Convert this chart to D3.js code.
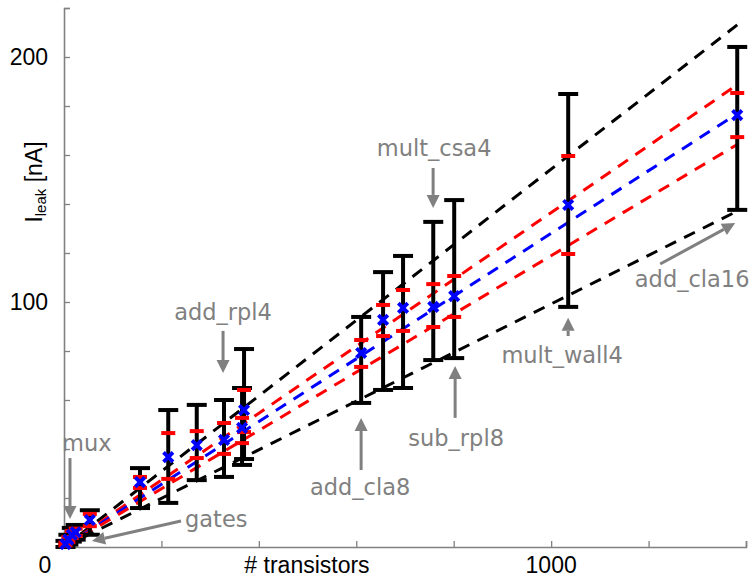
<!DOCTYPE html>
<html><head><meta charset="utf-8">
<script src="https://cdn.jsdelivr.net/npm/d3@7"></script>
<style>body{margin:0;background:#fff}</style>
</head><body>
<svg id="c" width="753" height="580"></svg>
<script>
// ---- data ----
const transistors = [3, 9, 16, 24, 53, 156, 214, 272.5, 328.5, 365.5, 369.6, 610, 655, 696, 758, 801, 1035, 1382];
const meanLeak    = [1.2, 3, 5, 6, 11, 26.5, 36.7, 41.6, 43.7, 48.6, 55.9, 79.2, 92.7, 97.6, 98, 102.4, 139.6, 176.3];
const redHigh     = [1.8, 4, 6.5, 7.5, 13.5, 28.6, 46.5, 47.3, 50.6, 52.7, 64.1, 84.5, 98.8, 104.9, 107.3, 110.6, 159.6, 185.3];
const redLow      = [0.6, 2, 3.7, 4.5, 8.5, 24.1, 27.8, 36.3, 38, 42.4, 46.9, 73.5, 86.1, 88.2, 89.8, 93.9, 119.6, 167.3];
const blackHigh   = [2.5, 5, 7.8, 9, 15, 32.2, 55.9, 58, 60, 64.9, 80.8, 93.9, 112.2, 118.8, 132.7, 141.6, 184.9, 204.1];
const blackLow    = [0, 1, 2.2, 3, 5, 15.9, 18, 27.3, 28.6, 33.5, 35.9, 58.8, 64.1, 64.9, 76.3, 77.1, 98, 137.6];

// fit lines through origin: slope (nA per transistor)
const fitNames  = ["upperBlack", "upperRed", "mean", "lowerRed", "lowerBlack"];
const fitSlopes = [0.1542, 0.1365, 0.1280, 0.1189, 0.0992];
const fitColors = ["#000", "#ff0000", "#0000ff", "#ff0000", "#000"];
const fitEndX   = 1382;

const xTickLabels = ["1000"];
const yTickLabels = ["100", "200"];

const annTexts  = ["mux", "gates", "add_rpl4", "add_cla8", "sub_rpl8", "mult_csa4", "mult_wall4", "add_cla16"];
const annTextX  = [-4.1, 248.5, 326.5, 607.8, 805, 759.8, 1022.6, 1289.5];
const annTextY  = [39.2, 8.2, 92.7, 21.2, 41.2, 159.6, 75.1, 106.1];
const annAnchor = ["start", "start", "middle", "middle", "middle", "middle", "middle", "middle"];
const annFrom   = [[12.3,36.3],[240.2,10.6],[326.5,88.2],[609.9,31.4],[802.9,52.7],[757.7,154.7],[1034.9,86.1],[1223.8,115.5]];
const annTo     = [[12.3,11.4],[57.5,2.4],[326.5,71],[609.9,52.7],[802.9,73.9],[757.7,138.4],[1034.9,93.6],[1377.8,132.2]];

// ---- chart ----
const svg = d3.select("#c");
const x = d3.scaleLinear().domain([0, 1400]).range([64, 746]);
const y = d3.scaleLinear().domain([0, 220]).range([547, 8]);
const gray = "#808080";

// axes
const gx = svg.append("g").attr("transform", "translate(0,547)")
  .call(d3.axisBottom(x).tickValues(d3.range(0, 1401, 200)).tickSize(-6).tickFormat(""));
const gy = svg.append("g").attr("transform", "translate(64,0)")
  .call(d3.axisLeft(y).tickValues(d3.range(0, 221, 20)).tickSize(-6).tickFormat(""));
[gx, gy].forEach(g => {
  g.select(".domain").attr("stroke", gray).attr("stroke-width", 1.6);
  g.selectAll(".tick line").attr("stroke", gray).attr("stroke-width", 1.3);
});

const fontA = "'Liberation Sans', Arial, sans-serif";
svg.append("text").attr("x", 45).attr("y", 573).attr("text-anchor", "middle")
  .attr("font-family", fontA).attr("font-size", 23).text("0");
xTickLabels.forEach(t => svg.append("text").attr("x", x(+t)).attr("y", 573).attr("text-anchor", "middle")
  .attr("font-family", fontA).attr("font-size", 23).text(t));
yTickLabels.forEach(t => svg.append("text").attr("x", 48).attr("y", y(+t) + 8).attr("text-anchor", "end")
  .attr("font-family", fontA).attr("font-size", 23).text(t));
svg.append("text").attr("x", 307).attr("y", 573).attr("text-anchor", "middle")
  .attr("font-family", fontA).attr("font-size", 23).text("# transistors");
const yl = svg.append("text").attr("transform", "translate(42,182) rotate(-90)")
  .attr("text-anchor", "middle").attr("font-family", fontA).attr("font-size", 23);
yl.append("tspan").text("I");
yl.append("tspan").attr("font-size", 15).attr("dy", 4).text("leak");
yl.append("tspan").attr("dy", -4).text(" [nA]");

// fit lines
fitSlopes.forEach((s, i) => {
  svg.append("line").attr("x1", x(0)).attr("y1", y(0)).attr("x2", x(fitEndX)).attr("y2", y(s * fitEndX))
    .attr("stroke", fitColors[i]).attr("stroke-width", 3).attr("stroke-dasharray", "12,9");
});

// error bars
const pts = transistors.map((t, i) => ({t, m: meanLeak[i], rh: redHigh[i], rl: redLow[i], bh: blackHigh[i], bl: blackLow[i]}));
const g = svg.append("g");
pts.forEach(d => {
  const cx = x(d.t);
  g.append("line").attr("x1", cx).attr("x2", cx).attr("y1", y(d.bh)).attr("y2", y(d.bl))
    .attr("stroke", "#000").attr("stroke-width", 4);
  [d.bh, d.bl].forEach(v => g.append("line").attr("x1", cx - 10).attr("x2", cx + 10).attr("y1", y(v)).attr("y2", y(v))
    .attr("stroke", "#000").attr("stroke-width", 4));
});
pts.forEach(d => {
  const cx = x(d.t);
  [d.rh, d.rl].forEach(v => g.append("line").attr("x1", cx - 7).attr("x2", cx + 7).attr("y1", y(v)).attr("y2", y(v))
    .attr("stroke", "#ff0000").attr("stroke-width", 4));
});
pts.forEach(d => {
  g.append("path").attr("d", d3.symbol(d3.symbolX, 60)()).attr("transform", `translate(${x(d.t)},${y(d.m)})`)
    .attr("stroke", "#0000ff").attr("stroke-width", 3.8).attr("fill", "none");
});

// annotations
const fontB = "'DejaVu Sans', Verdana, sans-serif";
annTexts.forEach((t, i) => {
  svg.append("text").attr("x", x(annTextX[i])).attr("y", y(annTextY[i])).attr("text-anchor", annAnchor[i])
    .attr("font-family", fontB).attr("font-size", 22.5).attr("fill", gray).text(t);
  const x1 = x(annFrom[i][0]), y1 = y(annFrom[i][1]), x2 = x(annTo[i][0]), y2 = y(annTo[i][1]);
  const ang = Math.atan2(y2 - y1, x2 - x1);
  const L = 13, W = 6.5;
  const bx = x2 - L * Math.cos(ang), by = y2 - L * Math.sin(ang);
  svg.append("line").attr("x1", x1).attr("y1", y1).attr("x2", bx).attr("y2", by)
    .attr("stroke", gray).attr("stroke-width", 3);
  const px = -Math.sin(ang) * W, py = Math.cos(ang) * W;
  svg.append("path").attr("d", `M${x2},${y2}L${bx + px},${by + py}L${bx - px},${by - py}Z`).attr("fill", gray);
});
</script>
</body></html>
